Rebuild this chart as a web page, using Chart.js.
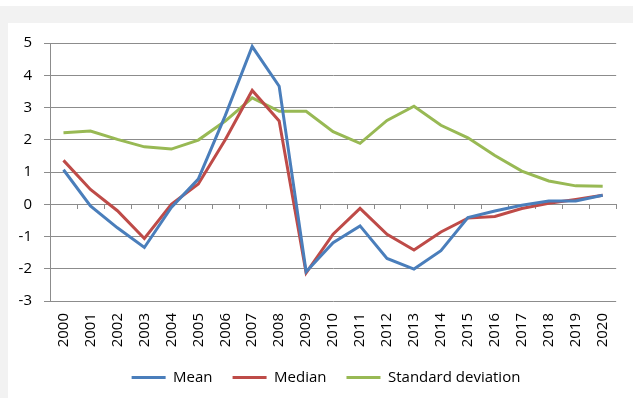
<!DOCTYPE html>
<html>
<head>
<meta charset="utf-8">
<script src="https://cdn.jsdelivr.net/npm/chart.js@4/dist/chart.umd.min.js"></script>
<style>
html,body{margin:0;padding:0;background:#fff;}
#wrap{position:relative;width:633px;height:398px;}
</style>
</head>
<body>
<div id="wrap"><canvas id="c" width="633" height="398"></canvas></div>
<script>
const years = ['2000','2001','2002','2003','2004','2005','2006','2007','2008','2009','2010','2011','2012','2013','2014','2015','2016','2017','2018','2019','2020'];
const meanValues = [1.07,-0.05,-0.73,-1.34,-0.1,0.78,2.75,4.89,3.66,-2.09,-1.19,-0.67,-1.68,-2.01,-1.44,-0.41,-0.21,-0.03,0.1,0.1,0.28];
const medianValues = [1.36,0.46,-0.2,-1.06,0.0,0.63,2.0,3.53,2.58,-2.13,-0.93,-0.13,-0.93,-1.42,-0.86,-0.43,-0.38,-0.13,0.03,0.15,0.28];
const stdValues = [2.22,2.27,2.01,1.78,1.71,1.99,2.58,3.3,2.88,2.88,2.25,1.89,2.6,3.04,2.45,2.06,1.51,1.03,0.72,0.57,0.56];
const yTicks = [-3,-2,-1,0,1,2,3,4,5];

const FONT = "'Open Sans', 'Noto Sans', sans-serif";

const framePlugin = {
  id: 'frame',
  beforeDraw(chart) {
    const ctx = chart.ctx;
    ctx.save();
    ctx.fillStyle = '#ffffff';
    ctx.fillRect(0, 0, chart.width, chart.height);
    ctx.fillStyle = '#f2f2f2';
    ctx.fillRect(0, 6, chart.width, chart.height - 6);
    ctx.fillStyle = '#ffffff';
    ctx.fillRect(8, 23, chart.width - 8, chart.height - 23);
    ctx.restore();
  }
};

const legendShiftPlugin = {
  id: 'legendShift',
  afterLayout(chart) {
    if (chart.legend) {
      chart.legend.left += 16;
      chart.legend.right += 16;
    }
  }
};

const zeroTicksPlugin = {
  id: 'zeroTicks',
  beforeDatasetsDraw(chart) {
    const x = chart.scales.x, y = chart.scales.y;
    const ctx = chart.ctx;
    const y0 = Math.round(y.getPixelForValue(0));
    ctx.save();
    ctx.strokeStyle = '#8c8c8c';
    ctx.lineWidth = 1;
    ctx.beginPath();
    for (let i = 0; i <= years.length; i++) {
      const px = Math.round(x.getPixelForValue(i - 0.5)) + 0.5;
      ctx.moveTo(px, y0);
      ctx.lineTo(px, y0 + 5);
    }
    ctx.stroke();
    ctx.restore();
  }
};

new Chart(document.getElementById('c'), {
  type: 'line',
  data: {
    labels: years,
    datasets: [
      {label: 'Mean', data: meanValues, borderColor: '#4a7ebb', backgroundColor: '#4a7ebb', borderWidth: 3, pointRadius: 0, tension: 0},
      {label: 'Median', data: medianValues, borderColor: '#be4b48', backgroundColor: '#be4b48', borderWidth: 3, pointRadius: 0, tension: 0},
      {label: 'Standard deviation', data: stdValues, borderColor: '#98b954', backgroundColor: '#98b954', borderWidth: 3, pointRadius: 0, tension: 0}
    ]
  },
  options: {
    responsive: false,
    animation: false,
    devicePixelRatio: 1,
    layout: {padding: {top: 43, right: 13, left: 0, bottom: 3}},
    plugins: {
      tooltip: {enabled: false},
      legend: {
        position: 'bottom',
        labels: {
          usePointStyle: true,
          pointStyle: 'line',
          pointStyleWidth: 34,
          boxHeight: 15,
          padding: 20,
          color: '#000',
          font: {family: FONT, size: 15}
        }
      }
    },
    scales: {
      x: {
        offset: true,
        grid: {display: false, drawTicks: false, tickLength: 0},
        border: {display: false},
        ticks: {
          minRotation: 90, maxRotation: 90, autoSkip: false,
          color: '#000', padding: 12,
          font: {family: FONT, size: 15}
        },
        afterFit(scale) { scale.height = 49; }
      },
      y: {
        min: -3, max: 5,
        afterBuildTicks(scale) { scale.ticks = yTicks.map(v => ({value: v})); },
        grid: {color: '#8c8c8c', lineWidth: 1, tickLength: 6, drawTicks: true},
        border: {display: true, color: '#8c8c8c', width: 1},
        ticks: {color: '#000', padding: 12, font: {family: FONT, size: 15}},
        afterFit(scale) { scale.width = 50; }
      }
    }
  },
  plugins: [framePlugin, legendShiftPlugin, zeroTicksPlugin]
});
</script>
</body>
</html>
